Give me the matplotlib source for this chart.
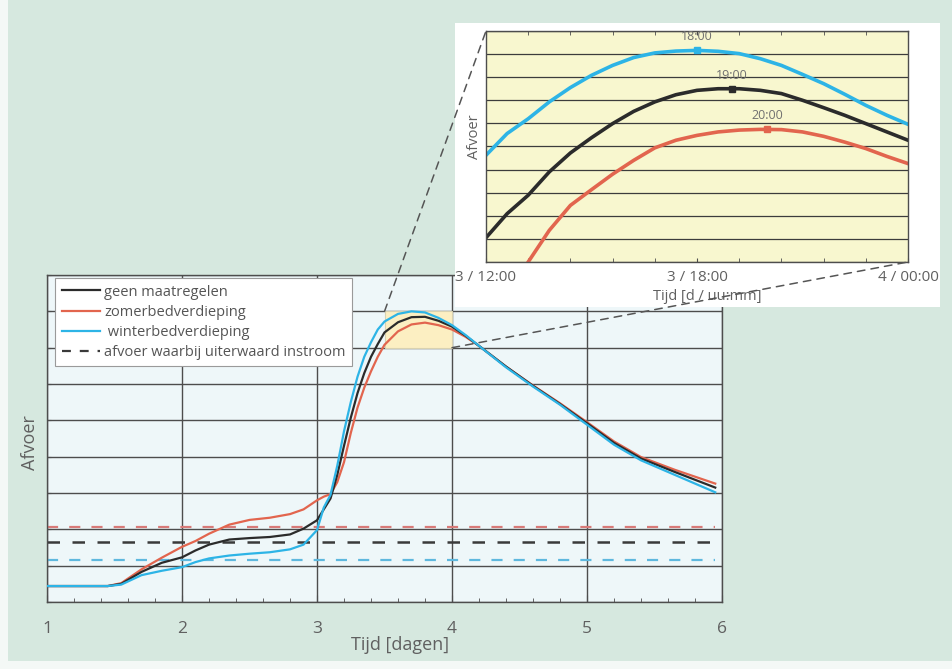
import numpy as np
import matplotlib
matplotlib.use("Agg")
from matplotlib import pyplot as plt
from matplotlib.patches import Rectangle, ConnectionPatch
from matplotlib.ticker import MultipleLocator, FixedLocator, FuncFormatter
from matplotlib.lines import Line2D

plt.rcParams['font.family'] = ['Open Sans', 'DejaVu Sans']

# hoofdgrafiek: tijd in dagen, afvoer in roostereenheden
t_main = [1.0, 1.45, 1.55, 1.7, 1.85, 2.0, 2.1, 2.2, 2.35, 2.5, 2.65, 2.8, 2.9,
          3.0, 3.05, 3.1, 3.15, 3.2, 3.25, 3.3, 3.35, 3.4, 3.45, 3.5, 3.6, 3.7,
          3.8, 3.9, 4.0, 4.1, 4.2, 4.4, 4.6, 4.8, 5.0, 5.2, 5.4, 5.65, 5.95]
q_geen = [0.44, 0.44, 0.50, 0.83, 1.08, 1.23, 1.42, 1.58, 1.72, 1.76, 1.79, 1.86, 2.02,
          2.25, 2.55, 2.85, 3.5, 4.3, 5.07, 5.75, 6.3, 6.75, 7.1, 7.42, 7.7, 7.84,
          7.85, 7.74, 7.58, 7.33, 7.05, 6.48, 5.95, 5.45, 4.92, 4.38, 3.95, 3.58, 3.15]
q_zomer = [0.44, 0.44, 0.52, 0.90, 1.22, 1.52, 1.68, 1.88, 2.13, 2.26, 2.32, 2.42, 2.55,
           2.80, 2.90, 2.97, 3.3, 3.85, 4.65, 5.35, 5.9, 6.35, 6.75, 7.08, 7.45, 7.64,
           7.69, 7.62, 7.50, 7.30, 7.05, 6.48, 5.96, 5.47, 4.95, 4.42, 3.99, 3.64, 3.26]
q_winter = [0.44, 0.44, 0.48, 0.74, 0.86, 0.96, 1.10, 1.20, 1.28, 1.33, 1.37, 1.45, 1.58,
            1.98, 2.6, 2.95, 3.75, 4.7, 5.5, 6.2, 6.75, 7.15, 7.5, 7.72, 7.93, 8.0,
            7.97, 7.82, 7.62, 7.35, 7.05, 6.46, 5.93, 5.43, 4.88, 4.33, 3.90, 3.50, 3.02]

# afvoer waarbij uiterwaard instroomt
drempel_geen = 1.66
drempel_zomer = 2.07
drempel_winter = 1.17
t_drempel = [1.0, 5.95]

# ingezoomd: 3 / 12:00 t/m 4 / 00:00
t_zoom = [3.5, 3.525, 3.55, 3.575, 3.6, 3.625, 3.65, 3.675, 3.7, 3.725, 3.75,
          3.775, 3.8, 3.825, 3.85, 3.875, 3.9, 3.925, 3.95, 3.975, 4.0]
z_winter = [4.62, 5.56, 6.2, 6.93, 7.55, 8.08, 8.51, 8.85, 9.05, 9.13, 9.16,
            9.12, 9.02, 8.8, 8.51, 8.12, 7.72, 7.26, 6.78, 6.35, 5.96]
z_geen = [1.05, 2.09, 2.89, 3.9, 4.72, 5.38, 5.99, 6.52, 6.93, 7.24, 7.43,
          7.5, 7.5, 7.43, 7.29, 7.0, 6.68, 6.35, 5.99, 5.63, 5.27]
z_zomer = [np.nan, np.nan, 0.0, 1.37, 2.45, 3.13, 3.8, 4.4, 4.94, 5.27, 5.48,
           5.63, 5.71, 5.74, 5.73, 5.63, 5.44, 5.19, 4.91, 4.57, 4.26]
piek_t = [3.75, 3.7917, 3.8333]
piek_q = [9.16, 7.5, 5.74]
piek_label = ["18:00", "19:00", "20:00"]

kleur_geen = '#2b2b2b'
kleur_zomer = '#e2654e'
kleur_winter = '#2db4e6'
grid_kleur = '#4d4d4d'
tekst_kleur = '#606060'


def tijd_label(x, pos):
    dag = int(np.floor(x + 1e-6))
    minuten = int(round((x - dag) * 24 * 60))
    return "%d / %02d:%02d" % (dag, minuten // 60, minuten % 60)


def main():
    fig = plt.figure(figsize=(9.52, 6.69), dpi=100, facecolor='#d6e8df')

    # witte randen van de scan
    fig.patches.append(Rectangle((0, 0), 0.008, 1, transform=fig.transFigure,
                                 facecolor='#f4f8f6', edgecolor='none', zorder=0))
    fig.patches.append(Rectangle((0, 0), 1, 0.012, transform=fig.transFigure,
                                 facecolor='#f4f8f6', edgecolor='none', zorder=0))

    # ---------- hoofdgrafiek ----------
    ax = fig.add_axes([0.0494, 0.1001, 0.709, 0.4888], facecolor='#eef7f9', zorder=0)
    ax.set_xlim(1, 6)
    ax.set_ylim(0, 9)
    ax.set_yticks(range(10))
    ax.set_yticklabels([])
    ax.xaxis.set_major_locator(FixedLocator([1, 2, 3, 4, 5, 6]))
    ax.xaxis.set_minor_locator(MultipleLocator(0.2))
    ax.grid(True, which='major', color=grid_kleur, lw=1.0)
    ax.set_axisbelow(True)
    ax.tick_params(axis='x', which='major', direction='in', length=5, pad=14,
                   labelsize=12.5, labelcolor=tekst_kleur, color=grid_kleur)
    ax.tick_params(axis='x', which='minor', direction='in', length=3, color=grid_kleur)
    ax.tick_params(axis='y', direction='in', length=3, color=grid_kleur)
    for s in ax.spines.values():
        s.set_color(grid_kleur)
        s.set_linewidth(1.0)

    ax.add_patch(Rectangle((3.5, 7), 0.5, 1, facecolor='#fcefc2',
                           edgecolor='#d9d2b0', lw=0.8, zorder=1.5))

    ax.plot(t_drempel, [drempel_zomer] * 2, color='#d87a78', lw=1.6,
            dashes=(5, 5), zorder=2)
    ax.plot(t_drempel, [drempel_geen] * 2, color='#3a3a3a', lw=1.8,
            dashes=(5, 5), zorder=2)
    ax.plot(t_drempel, [drempel_winter] * 2, color='#5fb8de', lw=1.6,
            dashes=(5, 5), zorder=2)

    ax.plot(t_main, q_zomer, color=kleur_zomer, lw=1.6, zorder=3)
    ax.plot(t_main, q_geen, color=kleur_geen, lw=1.6, zorder=3)
    ax.plot(t_main, q_winter, color=kleur_winter, lw=1.6, zorder=3)

    handles = [
        Line2D([], [], color=kleur_geen, lw=1.6),
        Line2D([], [], color=kleur_zomer, lw=1.6),
        Line2D([], [], color=kleur_winter, lw=1.6),
        Line2D([], [], color='#3a3a3a', lw=1.6, dashes=(4, 4)),
    ]
    labels = ["geen maatregelen", "zomerbedverdieping", " winterbedverdieping",
              "afvoer waarbij uiterwaard instroom"]
    leg = ax.legend(handles, labels, loc='upper left', bbox_to_anchor=(0.012, 0.991),
                    fontsize=10.5, frameon=True, fancybox=False, framealpha=1,
                    edgecolor='#9a9a9a', handlelength=2.6, handletextpad=0.3,
                    labelspacing=0.35, borderpad=0.45, borderaxespad=0)
    leg.get_frame().set_linewidth(0.8)
    for txt in leg.get_texts():
        txt.set_color('#555555')
    leg.set_zorder(6)

    fig.text(400 / 952, 1 - 645 / 669, "Tijd [dagen]", ha='center', va='center',
             fontsize=13, color=tekst_kleur)
    fig.text(30 / 952, 1 - 443 / 669, "Afvoer", ha='center', va='center',
             rotation=90, fontsize=13, color=tekst_kleur)

    # ---------- ingezoomde grafiek ----------
    fig.patches.append(Rectangle((0.478, 0.5411), 0.5095, 0.4245, transform=fig.transFigure,
                                 facecolor='white', edgecolor='none', zorder=1))

    axi = fig.add_axes([0.5105, 0.6084, 0.4433, 0.3453], facecolor='#f8f7cf', zorder=2)
    axi.set_xlim(3.5, 4.0)
    axi.set_ylim(0, 10)
    axi.set_yticks(range(11))
    axi.set_yticklabels([])
    axi.xaxis.set_major_locator(FixedLocator([3.5, 3.75, 4.0]))
    axi.xaxis.set_minor_locator(MultipleLocator(0.05))
    axi.xaxis.set_major_formatter(FuncFormatter(tijd_label))
    axi.grid(True, axis='y', color='#3c3c3c', lw=0.9)
    axi.set_axisbelow(True)
    axi.tick_params(axis='x', which='both', direction='in', length=3, pad=6,
                    labelsize=11, labelcolor=tekst_kleur, color=grid_kleur, top=True)
    axi.tick_params(axis='y', length=0)
    for s in axi.spines.values():
        s.set_color(grid_kleur)
        s.set_linewidth(1.0)

    axi.plot(t_zoom, z_winter, color=kleur_winter, lw=2.6)
    axi.plot(t_zoom, z_geen, color=kleur_geen, lw=2.6)
    axi.plot(t_zoom, z_zomer, color=kleur_zomer, lw=2.6)
    kleuren = [kleur_winter, kleur_geen, kleur_zomer]
    for t, q, lab, k in zip(piek_t, piek_q, piek_label, kleuren):
        axi.plot([t], [q], marker='s', ms=4.5, color=k, zorder=4)
        axi.annotate(lab, (t, q), xytext=(0, 5), textcoords='offset points',
                     ha='center', va='bottom', fontsize=9, color='#707070')

    fig.text(707 / 952, 1 - 296 / 669, "Tijd [d / uu:mm]", ha='center', va='center',
             fontsize=10.5, color=tekst_kleur, zorder=3)
    fig.text(475 / 952, 1 - 137 / 669, "Afvoer", ha='center', va='center',
             rotation=90, fontsize=10.5, color=tekst_kleur, zorder=3)

    # verbindingslijnen tussen kader en inzoom
    for pa, pb in [((3.5, 8), (3.5, 10)), ((4.0, 7), (4.0, 0))]:
        con = ConnectionPatch(xyA=pa, coordsA=ax.transData, xyB=pb, coordsB=axi.transData,
                              color='#555555', lw=1.1, linestyle=(0, (5, 4)), zorder=5)
        fig.add_artist(con)

    fig.savefig("out.png", dpi=100, facecolor=fig.get_facecolor())


if __name__ == "__main__":
    main()
